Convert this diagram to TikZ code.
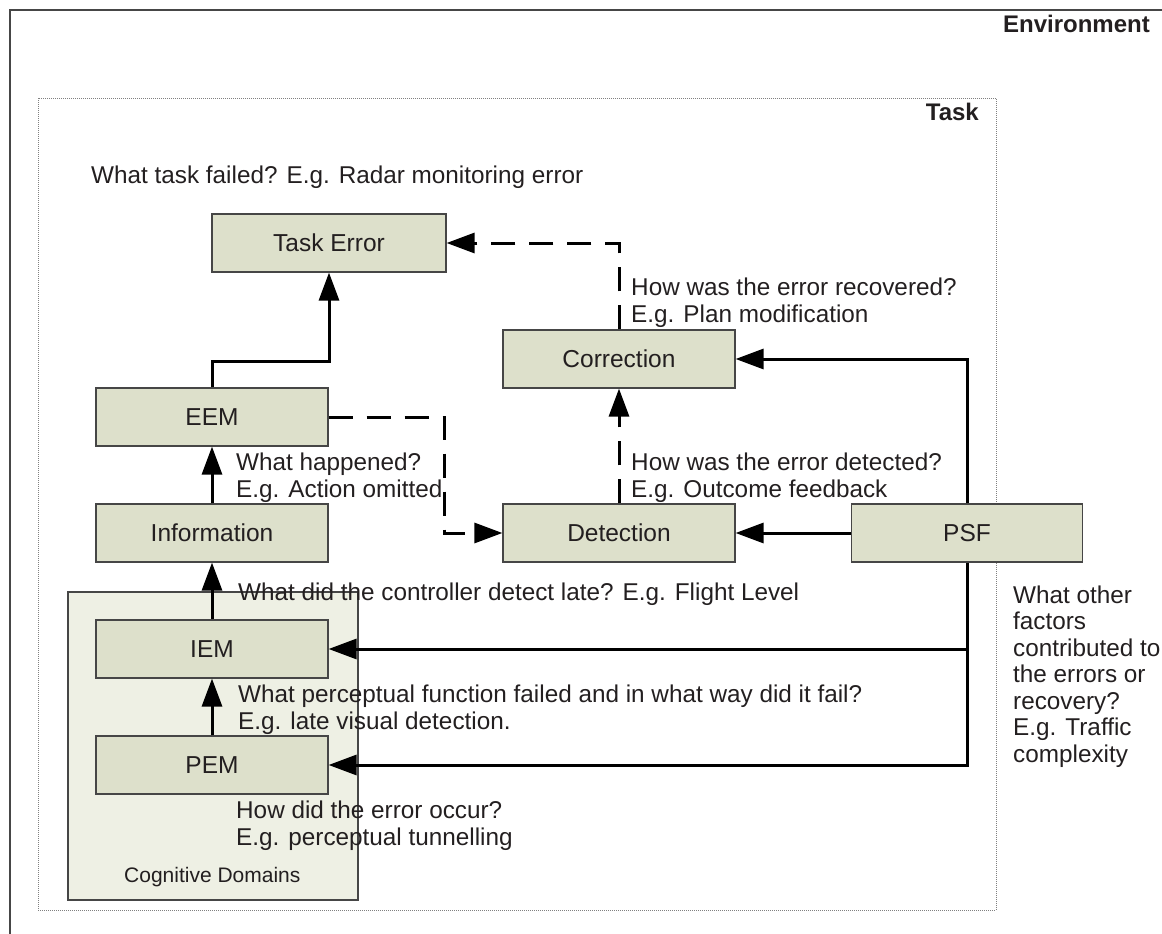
\documentclass[tikz,border=0pt]{standalone}
\usepackage{fontspec}
\setmainfont{Liberation Sans}
\usetikzlibrary{arrows.meta}
\definecolor{boxfill}{RGB}{221,224,203}
\definecolor{cdfill}{RGB}{238,240,228}
\definecolor{boxline}{RGB}{70,70,70}
\definecolor{txt}{RGB}{35,31,32}
\begin{document}
\begin{tikzpicture}[x=1pt,y=-1pt,
  blk/.style={draw=boxline, line width=1.2pt, fill=boxfill, minimum width=232pt, minimum height=58pt, inner sep=0pt, text=txt, font=\fontsize{24.5}{28}\selectfont},
  lbl/.style={anchor=base west, inner sep=0pt, text=txt, font=\fontsize{24.3}{28}\selectfont},
  conn/.style={line width=3pt, -{Triangle[length=28pt,width=20pt]}},
  dconn/.style={conn, dash pattern=on 24pt off 14pt}]
\useasboundingbox (0,0) rectangle (1162,934);
% environment frame
\draw[line width=1.3pt, draw=boxline] (10,934) -- (10,10) -- (1162,10);
\node[anchor=base east, inner sep=0pt, text=txt, font=\fontsize{24}{28}\selectfont\bfseries] (envlbl) at (1150,33) {Environment};
% task frame
\draw[line width=1pt, draw=gray, dash pattern=on 1pt off 1pt] (38,98) rectangle (996,910);
\node[anchor=base east, inner sep=0pt, text=txt, font=\fontsize{24}{28}\selectfont\bfseries] (tasklbl) at (979,120) {Task};
% cognitive domains
\draw[line width=1.2pt, draw=boxline, fill=cdfill] (68,592) rectangle (358,900);
\node[anchor=base west, inner sep=0pt, text=txt, font=\fontsize{21}{25}\selectfont] (cdlbl) at (124,882) {Cognitive Domains};
% annotations
\node[lbl] (t1) at (91,183) {What task failed? E.g. Radar monitoring error};
\node[lbl] (t2a) at (631,295) {How was the error recovered?};
\node[lbl] (t2b) at (631,322) {E.g. Plan modification};
\node[lbl] (t3a) at (631,470) {How was the error detected?};
\node[lbl] (t3b) at (631,497.5) {E.g. Outcome feedback};
\node[lbl] (t4a) at (236,470) {What happened?};
\node[lbl] (t4b) at (236,497.5) {E.g. Action omitted};
\node[lbl] (t5) at (238,600) {What did the controller detect late? E.g. Flight Level};
\node[lbl] (t6a) at (238,702) {What perceptual function failed and in what way did it fail?};
\node[lbl] (t6b) at (238,729) {E.g. late visual detection.};
\node[lbl] (t7a) at (236,818) {How did the error occur?};
\node[lbl] (t7b) at (236,845) {E.g. perceptual tunnelling};
\node[lbl] (r1) at (1013,603) {What other};
\node[lbl] (r2) at (1013,629.5) {factors};
\node[lbl] (r3) at (1013,656) {contributed to};
\node[lbl] (r4) at (1013,682.5) {the errors or};
\node[lbl] (r5) at (1013,709) {recovery?};
\node[lbl] (r6) at (1013,735.5) {E.g. Traffic};
\node[lbl] (r7) at (1013,762) {complexity};
% boxes
\node[blk, minimum width=234pt] (task) at (329,243) {Task Error};
\node[blk] (eem) at (212,417) {EEM};
\node[blk] (info) at (212,533) {Information};
\node[blk] (iem) at (212,649) {IEM};
\node[blk] (pem) at (212,765) {PEM};
\node[blk] (corr) at (619,359) {Correction};
\node[blk] (det) at (619,533) {Detection};
\node[blk, minimum width=231pt] (psf) at (967,533) {PSF};
% connectors
\coordinate (bend1) at (212,361);
\coordinate (bend2) at (444,417);
\coordinate (junc) at (967,649);
\draw[conn] (info.north) -- (eem.south);
\draw[conn] (iem.north) -- (info.south);
\draw[conn] (pem.north) -- (iem.south);
\draw[conn] (eem.north) -- (bend1) -| (task.south);
\draw[dconn] (eem.east) -- (bend2) |- (det.west);
\draw[dconn] (det.north) -- (corr.south);
\draw[dconn] (corr.north) |- (task.east);
\draw[conn] (psf.north) |- (corr.east);
\draw[conn] (psf.west) -- (det.east);
\draw[conn] (psf.south) |- (pem.east);
\draw[conn] (junc) -- (iem.east);
\end{tikzpicture}
\end{document}
